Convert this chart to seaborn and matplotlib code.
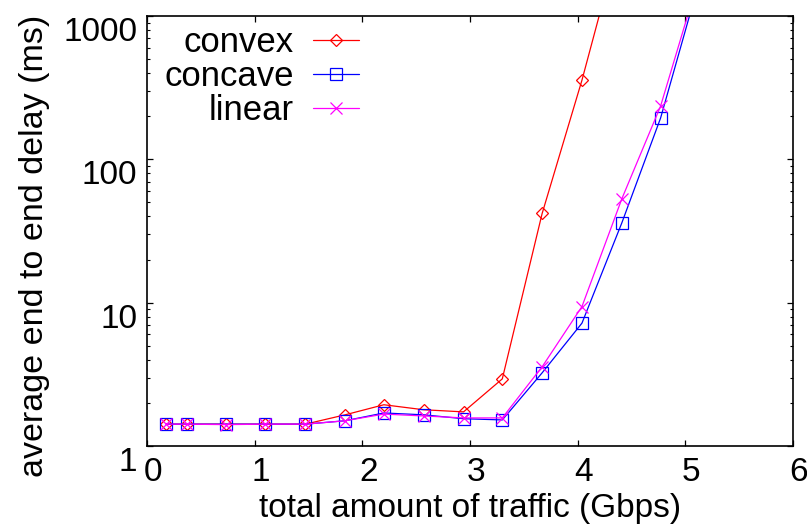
import numpy as np
import pandas as pd
import matplotlib
matplotlib.use("Agg")
import matplotlib.pyplot as plt
import matplotlib.ticker as mticker
from matplotlib.transforms import ScaledTranslation
import seaborn as sns

# ---- data ----
traffic = [0.18, 0.37, 0.73, 1.10, 1.47, 1.84, 2.20, 2.57, 2.94, 3.30, 3.67, 4.04, 4.41, 4.77, 5.14]
convex  = [1.42, 1.42, 1.42, 1.42, 1.42, 1.65, 1.94, 1.79, 1.73, 2.94, 41.9, 357, 3900, 30000, 200000]
concave = [1.42, 1.42, 1.42, 1.42, 1.42, 1.50, 1.70, 1.65, 1.55, 1.52, 3.24, 7.2, 36, 194, 1860]
linear  = [1.42, 1.42, 1.41, 1.42, 1.42, 1.50, 1.67, 1.62, 1.57, 1.57, 3.57, 9.4, 53, 235, 2000]

series_names = ["convex", "concave", "linear"]
series_values = [convex, concave, linear]
colors = ["#ff0000", "#0000ff", "#ff00ff"]
markers = ["D", "s", "x"]
msizes = [6.5, 8.5, 9]

xticks = [0, 1, 2, 3, 4, 5, 6]
yticks = [1, 10, 100, 1000]
xlabel = "total amount of traffic (Gbps)"
ylabel = "average end to end delay (ms)"

sns.set_theme(style="ticks")
plt.rcParams["font.family"] = ["Liberation Sans", "DejaVu Sans"]
plt.rcParams["text.color"] = "black"
plt.rcParams["axes.labelcolor"] = "black"
plt.rcParams["legend.labelcolor"] = "black"

fig = plt.figure(figsize=(8.07, 5.26), dpi=100)
ax = fig.add_axes([147 / 807, 1 - 446 / 526, 646 / 807, 430 / 526])

for name, vals, c, m, ms in zip(series_names, series_values, colors, markers, msizes):
    df = pd.DataFrame({"x": traffic, "y": vals})
    sns.lineplot(data=df, x="x", y="y", ax=ax, color=c, marker=m,
                 markersize=ms, markerfacecolor="none", markeredgecolor=c,
                 markeredgewidth=0.9, linewidth=0.9, label=name)

ax.set_yscale("log")
ax.set_xlim(0, 6)
ax.set_ylim(1, 1000)
ax.set_xticks(xticks)
ax.set_xticklabels([str(t) for t in xticks])
ax.yaxis.set_major_locator(mticker.FixedLocator(yticks))
ax.yaxis.set_major_formatter(mticker.FuncFormatter(lambda v, p: f"{v:g}"))
ax.yaxis.set_minor_locator(mticker.LogLocator(base=10, subs=np.arange(2, 10)))
ax.yaxis.set_minor_formatter(mticker.NullFormatter())

for sp in ax.spines.values():
    sp.set_visible(True)
    sp.set_color("black")
    sp.set_linewidth(1.2)

ax.tick_params(axis="both", which="major", direction="in", length=4.5, width=0.9,
               top=True, right=True, labelsize=24, colors="black")
ax.tick_params(axis="y", which="minor", direction="in", length=2.3, width=0.8,
               left=True, right=True, colors="black")
ax.tick_params(axis="x", which="minor", bottom=False, top=False)
ax.tick_params(axis="y", which="major", pad=7)
ax.tick_params(axis="x", which="major", pad=8)

# gnuplot-like tick label offsets
for lab in ax.get_yticklabels():
    lab.set_transform(lab.get_transform() + ScaledTranslation(0, -0.13, fig.dpi_scale_trans))
for lab in ax.get_xticklabels():
    lab.set_transform(lab.get_transform() + ScaledTranslation(0.06, 0, fig.dpi_scale_trans))

ax.set_xlabel(xlabel, fontsize=24, color="black")
ax.set_ylabel(ylabel, fontsize=24.5, color="black")
ax.xaxis.set_label_coords(0.5, (446 - 508) / 430)
ax.xaxis.label.set_va("center")
ax.yaxis.set_label_coords((35 - 147) / 646, (446 - 246) / 430)
ax.yaxis.label.set_va("center")

leg = ax.legend(loc="upper left", bbox_to_anchor=(164 / 807, 1 - 26 / 526),
                bbox_transform=fig.transFigure, frameon=False, markerfirst=False,
                fontsize=25, handlelength=1.35, handletextpad=0.55,
                labelspacing=0.03, borderpad=0, borderaxespad=0)
for col in leg._legend_handle_box.get_children():
    col.align = "right"
for t in leg.get_texts():
    t.set_color("black")

ax.set_facecolor("white")
fig.patch.set_facecolor("white")
fig.savefig("out.png", dpi=100)
